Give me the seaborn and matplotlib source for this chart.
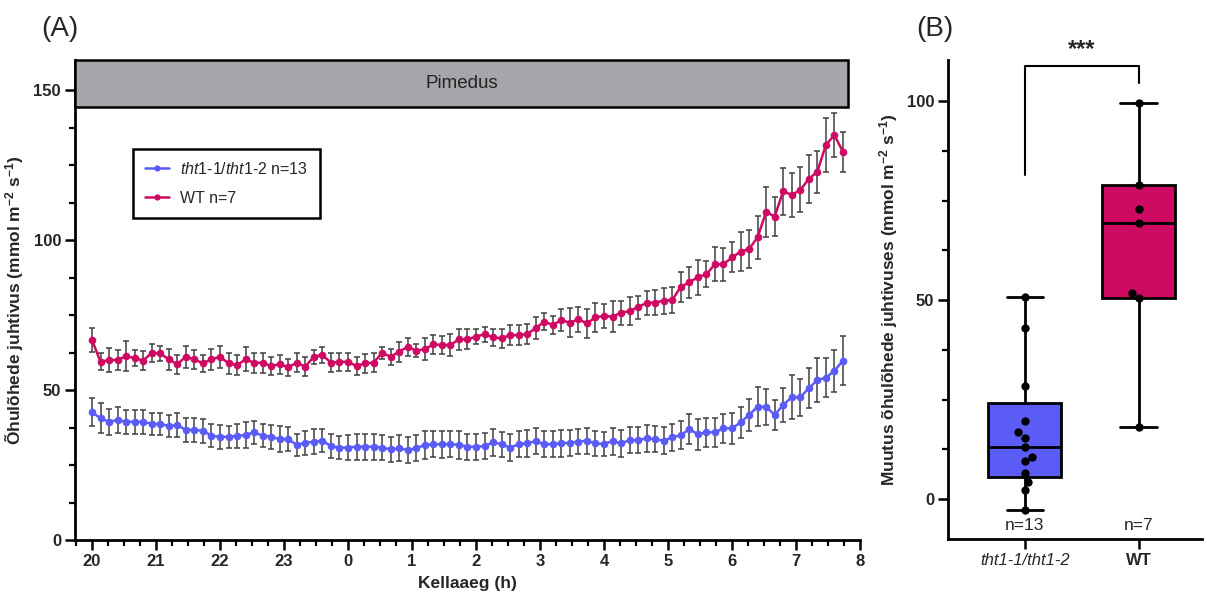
import numpy as np
import pandas as pd
import matplotlib
matplotlib.use("Agg")
import matplotlib.pyplot as plt
import seaborn as sns
from matplotlib.patches import Rectangle
from matplotlib.lines import Line2D
from matplotlib.ticker import MultipleLocator

# ---------------- data ----------------
# time points every 8 min starting at 20:00 (hours after 20:00)
time_h = np.arange(89) * 8 / 60.0
hour_labels = ["20", "21", "22", "23", "0", "1", "2", "3", "4", "5", "6", "7", "8"]

tht_mean = [42.6, 40.6, 39.4, 40.0, 39.4, 39.4, 39.4, 38.7, 38.7, 38.0, 38.3, 36.7, 36.7, 36.4, 34.8,
            34.4, 34.4, 34.7, 35.0, 35.9, 34.8, 34.4, 33.6, 33.6, 31.7, 32.4, 32.8, 33.1, 31.3, 30.8,
            30.8, 31.1, 31.1, 31.1, 30.8, 30.2, 30.6, 30.0, 30.6, 31.7, 31.9, 31.9, 32.0, 31.7, 31.1,
            31.1, 31.3, 32.6, 31.9, 30.8, 31.9, 32.2, 33.0, 31.9, 32.0, 32.2, 32.4, 32.8, 33.1, 32.2,
            32.0, 33.0, 32.2, 33.3, 33.3, 33.9, 33.6, 33.1, 34.2, 35.0, 36.9, 35.3, 35.9, 35.9, 37.2,
            37.2, 39.2, 41.7, 44.4, 44.4, 41.7, 45.0, 47.6, 47.6, 50.6, 53.3, 54.1, 56.4, 59.8]
tht_sem = [4.6, 5.0, 4.3, 4.2, 4.1, 4.1, 4.1, 3.7, 3.8, 3.7, 4.0, 4.1, 3.9, 4.1, 3.9,
           3.9, 3.7, 4.1, 4.2, 3.9, 3.8, 4.1, 4.3, 4.0, 3.7, 3.9, 4.2, 3.8, 4.1, 3.9,
           4.2, 4.3, 4.4, 4.3, 4.2, 4.3, 4.4, 4.3, 4.3, 4.8, 4.3, 4.6, 4.3, 4.7, 4.3,
           4.4, 4.3, 4.5, 4.2, 4.6, 4.3, 4.4, 4.4, 4.3, 4.2, 4.4, 4.3, 4.2, 4.4, 4.3,
           4.0, 4.5, 4.6, 4.4, 4.3, 4.4, 4.3, 4.5, 4.4, 4.7, 5.0, 5.2, 4.9, 4.9, 4.9,
           5.1, 5.1, 5.4, 6.5, 6.0, 5.1, 5.7, 7.4, 6.1, 6.7, 7.4, 6.5, 7.0, 8.2]

wt_mean = [66.7, 59.4, 60.0, 60.0, 61.3, 60.6, 59.8, 62.4, 62.2, 60.2, 58.6, 61.1, 60.2, 58.9, 60.2,
           61.1, 58.9, 58.3, 60.2, 59.1, 59.1, 58.0, 58.6, 57.6, 59.1, 57.8, 61.1, 61.7, 59.1, 59.4,
           59.4, 58.0, 58.9, 59.1, 62.4, 61.1, 62.8, 64.4, 63.1, 63.6, 65.2, 65.0, 65.0, 66.9, 66.9,
           67.8, 68.6, 67.6, 67.2, 68.3, 68.3, 68.7, 70.6, 72.8, 71.7, 73.3, 72.4, 73.6, 72.2, 74.2,
           74.7, 74.4, 75.8, 76.3, 77.6, 79.1, 79.1, 79.8, 80.0, 84.4, 85.9, 87.6, 88.6, 91.9, 91.9,
           94.2, 96.1, 97.0, 100.9, 109.4, 107.8, 116.3, 115.0, 116.7, 120.3, 122.8, 131.7, 135.0, 129.4]
wt_sem = [3.9, 2.8, 4.0, 3.2, 5.0, 2.6, 3.1, 3.1, 2.4, 3.5, 3.2, 3.7, 3.1, 2.8, 3.4,
          3.6, 3.4, 3.3, 4.0, 3.3, 3.3, 3.1, 3.2, 2.9, 3.2, 3.1, 2.3, 2.8, 3.1, 3.1,
          2.9, 2.9, 3.2, 3.1, 1.9, 2.6, 3.3, 3.1, 2.1, 3.6, 3.1, 2.9, 3.8, 3.4, 3.3,
          2.4, 2.5, 2.9, 3.1, 3.3, 3.3, 3.4, 3.7, 2.9, 3.1, 3.6, 4.8, 4.2, 4.7, 4.7,
          4.1, 5.2, 4.0, 4.6, 3.8, 4.0, 4.1, 4.3, 4.3, 4.9, 5.1, 5.8, 4.4, 5.7, 5.6,
          5.0, 6.5, 6.4, 7.2, 8.3, 6.4, 7.8, 7.2, 7.5, 8.0, 7.0, 8.9, 7.4, 6.7]

groups = ["tht1-1/tht1-2", "WT"]
tht_change = [50.8, 42.9, 28.5, 19.7, 16.8, 15.4, 13.1, 10.6, 9.6, 6.6, 4.3, 2.4, -2.6]
wt_change = [99.6, 78.9, 72.8, 69.4, 51.7, 50.4, 18.2]
n_labels = ["n=13", "n=7"]

BLUE = "#5b5cf6"
RED = "#cf0a63"

# ---------------- style ----------------
sns.set_theme(style="ticks")
plt.rcParams["font.family"] = ["Liberation Sans", "DejaVu Sans"]
plt.rcParams["mathtext.fontset"] = "custom"
plt.rcParams["mathtext.rm"] = "Liberation Sans"
plt.rcParams["mathtext.it"] = "Liberation Sans:italic"
plt.rcParams["mathtext.bf"] = "Liberation Sans:bold"

TICK_FS = 12
LABEL_FS = 12.5

fig = plt.figure(figsize=(12.07, 5.99), dpi=100)
axA = fig.add_axes([0.0621, 0.0985, 0.6504, 0.8013])
axB = fig.add_axes([0.7854, 0.1002, 0.2105, 0.7997])

# ---------------- panel A ----------------
df = pd.DataFrame({
    "t": np.concatenate([time_h, time_h]),
    "value": tht_mean + wt_mean,
    "genotype": ["tht"] * len(tht_mean) + ["WT"] * len(wt_mean),
})
axA.errorbar(time_h, tht_mean, yerr=tht_sem, fmt="none", ecolor="#404040",
             elinewidth=1.1, capsize=2.2, capthick=1.1, zorder=1)
axA.errorbar(time_h, wt_mean, yerr=wt_sem, fmt="none", ecolor="#404040",
             elinewidth=1.1, capsize=2.2, capthick=1.1, zorder=1)
sns.lineplot(data=df, x="t", y="value", hue="genotype",
             palette={"tht": BLUE, "WT": RED}, marker="o", markersize=5.5,
             markeredgewidth=0, linewidth=1.8, errorbar=None, legend=False,
             ax=axA, zorder=3)

axA.set_xlim(-0.266, 12)
axA.set_ylim(0, 160)
axA.set_xticks(range(13))
axA.set_xticklabels(hour_labels)
axA.xaxis.set_minor_locator(MultipleLocator(0.25))
axA.set_yticks([0, 50, 100, 150])
axA.yaxis.set_minor_locator(MultipleLocator(12.5))

for ax in (axA, axB):
    sns.despine(ax=ax)
    for s in ("left", "bottom"):
        ax.spines[s].set_linewidth(2.0)
        ax.spines[s].set_color("black")
    ax.tick_params(which="major", length=7, width=1.8, color="black",
                   labelsize=TICK_FS, pad=3)
    ax.tick_params(which="minor", length=4.5, width=1.6, color="black")
    for lab in ax.get_yticklabels():
        lab.set_fontweight("bold")

for lab in axA.get_xticklabels():
    lab.set_fontweight("bold")

axA.set_xlabel("Kellaaeg (h)", fontsize=LABEL_FS, fontweight="bold", labelpad=5)
axA.set_ylabel(r"Õhulõhede juhtivus (mmol m$^{\mathbf{-2}}$ s$^{\mathbf{-1}}$)",
               fontsize=LABEL_FS, fontweight="bold", labelpad=5)

# darkness band
y0 = 144.5 / 160
rect = Rectangle((0, y0), 0.9847, 1 - y0, transform=axA.transAxes,
                 facecolor="#a6a5aa", edgecolor="black", linewidth=1.8,
                 clip_on=False, zorder=5)
axA.add_patch(rect)
axA.text(0.9847 / 2, (1 + y0) / 2, "Pimedus", transform=axA.transAxes,
         ha="center", va="center", fontsize=13.5, color="#222222", zorder=6)

handles = [
    Line2D([0], [0], color=BLUE, marker="o", markersize=4.5, markeredgewidth=0, linewidth=1.8),
    Line2D([0], [0], color=RED, marker="o", markersize=4.5, markeredgewidth=0, linewidth=1.8),
]
labels = [r"$\mathit{tht1}$-$\mathit{1/tht1}$-$\mathit{2}$ n=13", "WT n=7"]
leg = axA.legend(handles, labels, loc="upper left", bbox_to_anchor=(0.0739, 0.8146),
                 frameon=True, fancybox=False, framealpha=1, fontsize=11.5,
                 handlelength=1.5, borderpad=0.75, labelspacing=0.85,
                 borderaxespad=0, handletextpad=0.7)
leg.get_frame().set_edgecolor("black")
leg.get_frame().set_linewidth(1.8)

# ---------------- panel B ----------------
def box_stats(vals):
    q1, med, q3 = np.percentile(vals, [25, 50, 75], method="weibull")
    return dict(med=med, q1=q1, q3=q3, whislo=min(vals), whishi=max(vals), fliers=[])

bp = axB.bxp([box_stats(tht_change), box_stats(wt_change)], positions=[0, 1],
             widths=0.64, capwidths=0.32, patch_artist=True, showfliers=False,
             manage_ticks=False,
             boxprops=dict(edgecolor="black", linewidth=2.0),
             medianprops=dict(color="black", linewidth=2.0),
             whiskerprops=dict(color="black", linewidth=2.0),
             capprops=dict(color="black", linewidth=2.0))
bp["boxes"][0].set_facecolor(BLUE)
bp["boxes"][1].set_facecolor(RED)

df2 = pd.DataFrame({
    "group": [groups[0]] * len(tht_change) + [groups[1]] * len(wt_change),
    "value": tht_change + wt_change,
})
sns.swarmplot(data=df2, x="group", y="value", order=groups, color="black",
              size=6, ax=axB, zorder=4)

axB.set_xlim(-0.674, 1.557)
axB.set_ylim(-10, 110.3)
axB.set_yticks([0, 50, 100])
axB.yaxis.set_minor_locator(MultipleLocator(12.5))
axB.set_xticks([0, 1])
axB.set_xticklabels(groups)
xl = axB.get_xticklabels()
xl[0].set_fontstyle("italic")
xl[1].set_fontweight("bold")
for lab in axB.get_yticklabels():
    lab.set_fontweight("bold")
axB.set_xlabel("")
axB.set_ylabel(r"Muutus õhulõhede juhtivuses (mmol m$^{\mathbf{-2}}$ s$^{\mathbf{-1}}$)",
               fontsize=LABEL_FS, fontweight="bold", labelpad=5)

for i, t in enumerate(n_labels):
    axB.text(i, -6.5, t, ha="center", va="center", fontsize=12.5)

axB.plot([0, 0, 1, 1], [81.4, 108.8, 108.8, 104.6], color="black",
         linewidth=1.5, clip_on=False)
axB.text(0.5, 113.0, "***", ha="center", va="center", fontsize=17,
         fontweight="bold")

fig.text(0.0497, 0.9516, "(A)", ha="center", va="center", fontsize=20)
fig.text(0.7746, 0.9516, "(B)", ha="center", va="center", fontsize=20)

fig.savefig("out.png", dpi=100)
